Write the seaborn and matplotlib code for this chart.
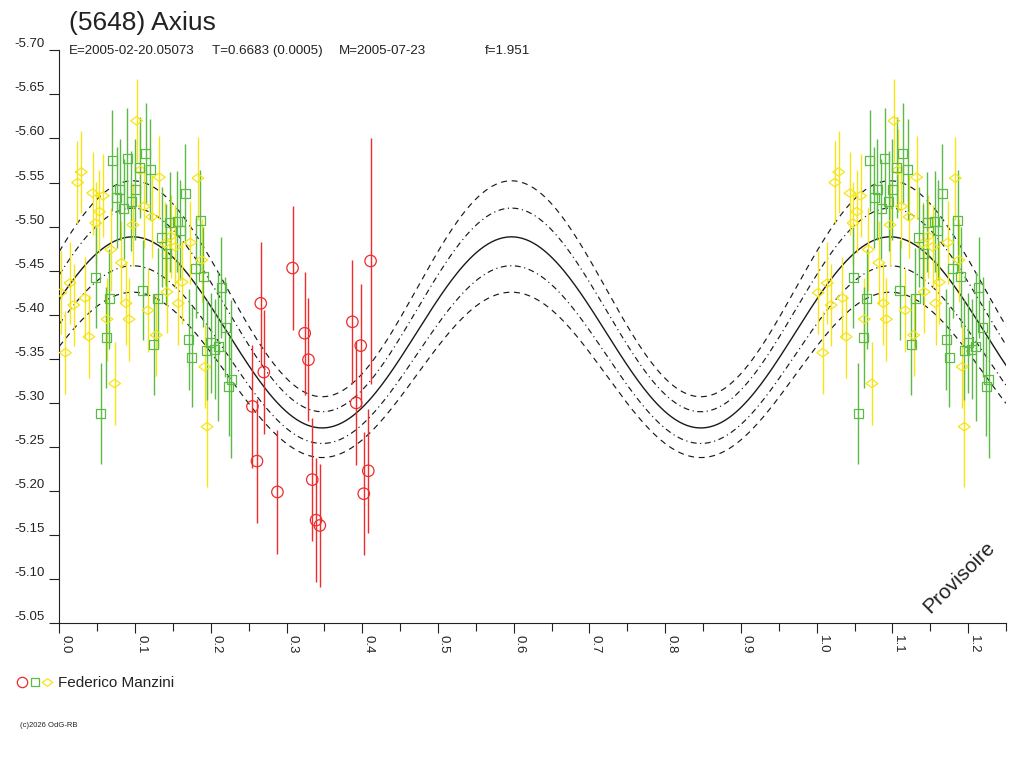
import numpy as np
import pandas as pd
import seaborn as sns
import matplotlib.pyplot as plt
from matplotlib.lines import Line2D
from matplotlib.legend_handler import HandlerTuple

red_phase = [0.266, 0.308, 0.324, 0.329, 0.270, 0.387, 0.398, 0.411, 0.255,
             0.392, 0.261, 0.288, 0.334, 0.339, 0.344, 0.408, 0.402]
red_mag = [-5.413, -5.453, -5.379, -5.349, -5.335, -5.392, -5.365, -5.461, -5.296,
           -5.300, -5.234, -5.199, -5.213, -5.167, -5.161, -5.223, -5.197]
red_err = [0.070, 0.070, 0.070, 0.070, 0.070, 0.070, 0.070, 0.140, 0.070,
           0.070, 0.070, 0.070, 0.070, 0.070, 0.070, 0.070, 0.070]

green_phase = [0.070, 0.090, 0.114, 0.106, 0.120, 0.080, 0.076, 0.085, 0.095,
               0.100, 0.166, 0.186, 0.146, 0.156, 0.135, 0.160, 0.141, 0.180,
               0.190, 0.048, 0.110, 0.214, 0.066, 0.130, 0.219, 0.062, 0.055,
               0.125, 0.171, 0.175, 0.195, 0.205, 0.210, 0.227, 0.224, 0.200]
green_mag = [-5.575, -5.577, -5.583, -5.567, -5.565, -5.542, -5.533, -5.520, -5.529,
             -5.542, -5.537, -5.507, -5.505, -5.506, -5.488, -5.496, -5.469, -5.453,
             -5.443, -5.442, -5.428, -5.431, -5.418, -5.419, -5.386, -5.374, -5.288,
             -5.366, -5.372, -5.352, -5.360, -5.361, -5.364, -5.327, -5.319, -5.368]
green_err = [0.057] * 32 + [0.085, 0.090, 0.057, 0.057]

yellow_phase = [0.102, 0.029, 0.024, 0.044, 0.058, 0.053, 0.048, 0.107, 0.132,
                0.183, 0.112, 0.122, 0.097, 0.068, 0.082, 0.014, 0.147, 0.153,
                0.173, 0.188, 0.140, 0.162, 0.002, 0.019, 0.034, 0.063, 0.088,
                0.092, 0.117, 0.142, 0.157, 0.008, 0.039, 0.073, 0.128, 0.192, 0.195]
yellow_mag = [-5.620, -5.562, -5.550, -5.538, -5.535, -5.517, -5.504, -5.564, -5.556,
              -5.555, -5.523, -5.511, -5.502, -5.474, -5.459, -5.436, -5.489, -5.477,
              -5.482, -5.462, -5.481, -5.437, -5.425, -5.411, -5.419, -5.395, -5.413,
              -5.395, -5.405, -5.426, -5.413, -5.357, -5.375, -5.322, -5.377, -5.341, -5.273]
yellow_err = [0.047] * 36 + [0.068]

# fitted lightcurve: 2nd harmonic, mean level and half amplitude of each curve
curve_mean = [-5.4295, -5.4055, -5.3800, -5.3548, -5.3318]
curve_amp = [0.1225, 0.1155, 0.1084, 0.1008, 0.0938]
curve_ls = [(0, (5, 4)), (0, (5, 3, 1, 3)), '-', (0, (5, 3, 1, 3)), (0, (5, 4))]
phase_of_max = 0.597

title = "(5648) Axius"
info = ["E=2005-02-20.05073", "T=0.6683 (0.0005)", "M=2005-07-23", "f=1.951"]
observer = "Federico Manzini"

colors = {"red": "#ef2b2b", "green": "#5cbb45", "yellow": "#f7e414"}
diamond = [(-1, 0), (0, 0.72), (1, 0), (0, -0.72), (-1, 0)]
markers = {"red": "o", "green": "s", "yellow": diamond}
sizes = {"red": 68, "green": 42, "yellow": 72}

frames = []
for name, ph, mg, er in [("red", red_phase, red_mag, red_err),
                         ("green", green_phase, green_mag, green_err),
                         ("yellow", yellow_phase, yellow_mag, yellow_err)]:
    d = pd.DataFrame({"phase": ph, "mag": mg, "err": er})
    d["set"] = name
    frames.append(d)
df = pd.concat(frames, ignore_index=True)
# phases below 0.25 are shown again one cycle later
rep = df[df["phase"] < 0.25].copy()
rep["phase"] = rep["phase"] + 1
df = pd.concat([df, rep], ignore_index=True)

sns.set_style("ticks")
plt.rcParams['font.family'] = ['Liberation Sans', 'DejaVu Sans']
txt = "#222222"

fig = plt.figure(figsize=(10.24, 7.68), dpi=100)
ax = fig.add_axes([59.3 / 1024, 1 - 623.3 / 768, 946.7 / 1024, 573 / 768])

# model curves
xs = np.linspace(0, 1.25, 500)
for m, a, ls in zip(curve_mean, curve_amp, curve_ls):
    ys = m - a * np.cos(4 * np.pi * (xs - phase_of_max))
    sns.lineplot(x=xs, y=ys, ax=ax, color="#1a1a1a", lw=0.85 if ls != '-' else 1.0,
                 linestyle=ls, zorder=1.5, sort=False, estimator=None)

# error bars and markers
for name in ["yellow", "green", "red"]:
    d = df[df["set"] == name]
    ax.vlines(d["phase"], d["mag"] - d["err"], d["mag"] + d["err"],
              colors=colors[name], lw=1.0, zorder=2)
for name in ["yellow", "green", "red"]:
    d = df[df["set"] == name]
    sns.scatterplot(data=d, x="phase", y="mag", ax=ax, marker=markers[name],
                    s=sizes[name], color=colors[name], facecolor="none",
                    edgecolor=colors[name], linewidth=0.9, zorder=3, legend=False)

ax.set_xlim(0, 1.25)
ax.set_ylim(-5.05, -5.70)
ax.set_xlabel("")
ax.set_ylabel("")
xt = np.round(np.arange(0, 1.21, 0.1), 2)
ax.set_xticks(xt)
ax.set_xticks(np.round(np.arange(0.05, 1.26, 0.1), 2), minor=True)
ax.set_xticklabels([f"{v:.1f}" for v in xt], rotation=-90, ha="left", va="top")
yt = np.round(np.arange(-5.70, -5.049, 0.05), 2)
ax.set_yticks(yt)
ax.set_yticklabels([f"{v:.2f}" for v in yt])
for lab in ax.get_yticklabels():
    lab.set_verticalalignment("bottom")

ax.tick_params(axis="x", which="major", length=7.2, width=0.8, pad=1,
               labelsize=9.5, colors=txt)
ax.tick_params(axis="x", which="minor", length=5.8, width=0.8, colors=txt)
ax.tick_params(axis="y", length=7.2, width=0.8, pad=3.5, labelsize=9.5, colors=txt)
sns.despine(ax=ax)
for sp in ["left", "bottom"]:
    ax.spines[sp].set_linewidth(0.8)
    ax.spines[sp].set_color(txt)

# header
fig.text(69 / 1024, 1 - 30 / 768, title, fontsize=19, color=txt, va="baseline")
for xpix, s in zip([69, 212, 339, 485], info):
    fig.text(xpix / 1024, 1 - 54 / 768, s, fontsize=9.6, color=txt, va="baseline")

fig.text(959 / 1024, 1 - 577 / 768, "Provisoire", rotation=45, fontsize=15,
         color=txt, ha="center", va="center")

# observer legend
hands = tuple(Line2D([], [], ls="none", marker=markers[k], mfc="none",
                     mec=colors[k], ms=np.sqrt(sizes[k]) * 0.9, mew=0.9)
              for k in ["red", "green", "yellow"])
fig.legend(handles=[hands], labels=[observer],
           handler_map={tuple: HandlerTuple(ndivide=None, pad=0.15)},
           loc="center left", bbox_to_anchor=(17 / 1024, 1 - 683 / 768),
           frameon=False, fontsize=11, handlelength=2.3, handletextpad=0.4,
           borderpad=0, borderaxespad=0, labelcolor=txt)

fig.text(20 / 1024, 1 - 727 / 768, "(c)2026 OdG-RB", fontsize=5.5, color=txt,
         va="baseline")

fig.savefig("out.png", dpi=100)
